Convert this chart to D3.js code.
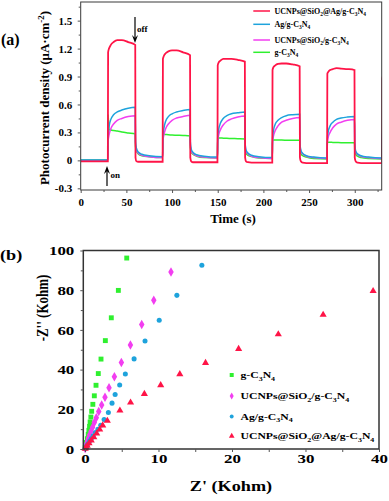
<!DOCTYPE html>
<html><head><meta charset="utf-8">
<script src="https://cdn.jsdelivr.net/npm/d3@7"></script>
<style>
body{margin:0;background:#fff}
svg{display:block}
text{font-family:"Liberation Serif","Times New Roman",serif;font-weight:bold;fill:#000}
</style></head>
<body><svg id="c" width="389" height="501"></svg>
<script>
// ---------- Panel (a) data: photocurrent vs time ----------
const time = [0, 29.7,
  30, 31, 33, 36, 40, 45, 52, 59.7, 60, 61, 63, 67, 75, 89.7,
  90, 91, 93, 96, 100, 105, 112, 119.7, 120, 121, 123, 127, 135, 149.7,
  150, 151, 153, 156, 160, 165, 172, 179.7, 180, 181, 183, 187, 195, 209.7,
  210, 211, 213, 216, 220, 225, 232, 239.7, 240, 241, 243, 247, 255, 269.7,
  270, 271, 273, 276, 280, 285, 292, 299.7, 300, 301, 303, 307, 315, 329.7,
  330, 332];
const redA = [-0.01, -0.01,
  1.16, 1.20, 1.24, 1.27, 1.29, 1.29, 1.27, 1.24, 0.03, -0.01, -0.015, -0.015, -0.015, -0.015,
  1.09, 1.12, 1.15, 1.17, 1.18, 1.18, 1.16, 1.13, 0.03, -0.01, -0.02, -0.02, -0.02, -0.02,
  1.02, 1.05, 1.07, 1.09, 1.09, 1.09, 1.08, 1.06, 0.03, -0.01, -0.02, -0.025, -0.025, -0.025,
  0.97, 1.00, 1.02, 1.035, 1.04, 1.04, 1.03, 1.01, 0.03, -0.01, -0.025, -0.03, -0.03, -0.03,
  0.93, 0.95, 0.97, 0.98, 0.99, 0.985, 0.98, 0.97, 0.03, -0.01, -0.025, -0.03, -0.03, -0.03,
  0.88, 0.92];
const blueA = [0.005, 0.005,
  0.26, 0.36, 0.44, 0.49, 0.52, 0.54, 0.56, 0.57, 0.20, 0.13, 0.09, 0.065, 0.05, 0.04,
  0.26, 0.34, 0.42, 0.47, 0.50, 0.52, 0.535, 0.545, 0.20, 0.12, 0.085, 0.06, 0.045, 0.035,
  0.25, 0.33, 0.40, 0.45, 0.48, 0.50, 0.51, 0.52, 0.19, 0.11, 0.08, 0.055, 0.04, 0.03,
  0.24, 0.32, 0.39, 0.43, 0.46, 0.48, 0.49, 0.495, 0.18, 0.11, 0.075, 0.05, 0.035, 0.025,
  0.23, 0.31, 0.37, 0.41, 0.44, 0.455, 0.465, 0.47, 0.17, 0.10, 0.07, 0.05, 0.035, 0.025,
  0.25, 0.40];
const magentaA = [0.0, 0.0,
  0.20, 0.27, 0.34, 0.39, 0.43, 0.45, 0.47, 0.48, 0.18, 0.11, 0.08, 0.055, 0.04, 0.03,
  0.21, 0.27, 0.34, 0.39, 0.43, 0.455, 0.47, 0.485, 0.17, 0.10, 0.075, 0.05, 0.035, 0.025,
  0.20, 0.27, 0.33, 0.38, 0.42, 0.445, 0.465, 0.475, 0.17, 0.10, 0.07, 0.045, 0.03, 0.02,
  0.19, 0.26, 0.32, 0.37, 0.41, 0.43, 0.45, 0.46, 0.16, 0.10, 0.07, 0.045, 0.03, 0.02,
  0.18, 0.25, 0.30, 0.35, 0.39, 0.41, 0.43, 0.44, 0.16, 0.09, 0.065, 0.04, 0.03, 0.02,
  0.22, 0.38];
const greenA = [0.005, 0.005,
  0.49, 0.33, 0.325, 0.32, 0.315, 0.305, 0.295, 0.285, 0.15, 0.10, 0.07, 0.05, 0.04, 0.03,
  0.28, 0.28, 0.278, 0.275, 0.272, 0.27, 0.267, 0.263, 0.14, 0.09, 0.065, 0.045, 0.03, 0.025,
  0.24, 0.24, 0.24, 0.238, 0.237, 0.235, 0.233, 0.23, 0.13, 0.08, 0.055, 0.04, 0.025, 0.02,
  0.22, 0.22, 0.22, 0.22, 0.218, 0.217, 0.216, 0.215, 0.12, 0.075, 0.05, 0.035, 0.02, 0.015,
  0.19, 0.195, 0.195, 0.193, 0.192, 0.19, 0.19, 0.19, 0.11, 0.07, 0.045, 0.03, 0.02, 0.015,
  0.15, 0.19];
const seriesNamesA = ["UCNPs@SiO2@Ag/g-C3N4", "Ag/g-C3N4", "UCNPs@SiO2/g-C3N4", "g-C3N4"];
const xTicksA = [0, 50, 100, 150, 200, 250, 300];
const yTicksA = [-0.3, 0, 0.3, 0.6, 0.9, 1.2, 1.5];
const yTickLabelsA = ["-0.3", "0", "0.3", "0.6", "0.9", "1.2", "1.5"];

// ---------- Panel (b) data: Nyquist plot [Z', -Z''] ----------
const gcnB = [[5.68,96.2],[4.54,79.9],[3.58,66.1],[2.77,54.6],[2.18,45.3],[1.81,38.0],[1.50,32.1],[1.27,26.8],[1.07,22.5],[0.91,19.0],[0.80,16.1],[0.70,13.6],[0.62,11.4],[0.53,9.4],[0.44,7.4],[0.32,5.2],[0.2,3.3],[0.1,1.8],[0.04,0.7]];
const ucnpB = [[11.7,89.2],[9.36,74.9],[7.72,62.7],[6.18,52.4],[4.95,43.6],[4.0,36.4],[3.27,30.9],[2.72,26.1],[2.27,22.2],[1.87,18.9],[1.54,15.8],[1.27,13.3],[1.03,11.0],[0.83,9.0],[0.65,7.2],[0.5,5.6],[0.37,4.2],[0.25,2.9],[0.15,1.8],[0.07,0.9],[0.02,0.3]];
const agB = [[15.9,92.6],[12.5,77.4],[10.1,64.9],[8.17,54.4],[6.68,45.4],[5.49,37.8],[4.72,32.2],[4.1,27.5],[3.68,23.1],[3.18,18.4],[2.6,14.8],[2.14,12.0],[1.76,10.0],[1.42,8.3],[1.12,6.7],[0.86,5.3],[0.63,4.0],[0.43,2.8],[0.26,1.7],[0.12,0.8],[0.03,0.2]];
const ucnpAgB = [[39.2,79.6],[32.4,67.6],[26.3,57.8],[20.9,50.4],[16.4,43.4],[12.9,37.7],[10.3,32.2],[8.08,27.8],[6.2,23.4],[4.75,19.4],[3.04,14.2],[2.41,11.9],[2.0,9.8],[1.59,7.8],[1.2,5.9],[0.85,4.3],[0.55,2.9],[0.3,1.7],[0.12,0.8],[0.03,0.2]];
const seriesNamesB = ["g-C3N4", "UCNPs@SiO2/g-C3N4", "Ag/g-C3N4", "UCNPs@SiO2@Ag/g-C3N4"];
const xTicksB = [0, 10, 20, 30, 40];
const yTicksB = [0, 20, 40, 60, 80, 100];

// ---------- helpers ----------
const svg = d3.select("#c");
const COL = {red:"#ff1447", blue:"#1ea3dc", mag:"#f23ef0", green:"#2ff02f"};

function chem(t, str, fs){
  const parts = str.split(/(\d)/).filter(p => p !== "");
  let down = false;
  parts.forEach(p => {
    if (/^\d$/.test(p)) {
      t.append("tspan").attr("font-size", fs*0.68).attr("dy", down ? 0 : fs*0.28).text(p);
      down = true;
    } else {
      t.append("tspan").attr("dy", down ? -fs*0.28 : 0).text(p);
      down = false;
    }
  });
}
function stretch(sel, k){
  sel.each(function(){
    const w = this.getComputedTextLength();
    d3.select(this).attr("textLength", w*k).attr("lengthAdjust", "spacingAndGlyphs");
  });
}
function range(a, b, s){ const r=[]; for(let v=a; v<=b+1e-9; v+=s) r.push(+v.toFixed(4)); return r; }

// ================= Panel (a) =================
const xA = d3.scaleLinear().domain([0, 329.5]).range([80.7, 381.7]);
const yA = d3.scaleLinear().domain([-0.318, 1.70]).range([190, 2]);
const gA = svg.append("g");

gA.append("defs").append("clipPath").attr("id","clipA").append("rect")
  .attr("x", xA.range()[0]).attr("y", yA.range()[1])
  .attr("width", xA.range()[1]-xA.range()[0]).attr("height", yA.range()[0]-yA.range()[1]);

const lineA = d3.line().x((d,i)=>xA(time[i])).y(d=>yA(d)).curve(d3.curveMonotoneX);
const seriesA = [[greenA, COL.green, 1.5],[magentaA, COL.mag, 1.5],[blueA, COL.blue, 1.5],[redA, COL.red, 1.8]];
seriesA.forEach(([vals, c, w]) => {
  gA.append("path").attr("clip-path","url(#clipA)").attr("d", lineA(vals))
    .attr("fill","none").attr("stroke", c).attr("stroke-width", w);
});

// frame
gA.append("rect").attr("x", xA.range()[0]).attr("y", yA.range()[1])
  .attr("width", xA.range()[1]-xA.range()[0]).attr("height", yA.range()[0]-yA.range()[1])
  .attr("fill","none").attr("stroke","#3a3a3a").attr("stroke-width",1);

// axes
const axAx = gA.append("g").attr("transform",`translate(0,${yA.range()[0]})`)
  .call(d3.axisBottom(xA).tickValues(xTicksA).tickSize(3).tickPadding(5).tickFormat(d3.format("d")));
axAx.select(".domain").remove();
axAx.selectAll("text").attr("font-size", 11);
gA.append("g").attr("transform",`translate(0,${yA.range()[0]})`)
  .call(d3.axisBottom(xA).tickValues(range(25, 325, 50)).tickSize(2).tickFormat(""))
  .select(".domain").remove();
const axAy = gA.append("g").attr("transform",`translate(${xA.range()[0]},0)`)
  .call(d3.axisLeft(yA).tickValues(yTicksA).tickSize(3).tickPadding(5.5).tickFormat((d,i)=>yTickLabelsA[i]));
axAy.select(".domain").remove();
axAy.selectAll("text").attr("font-size", 11);
gA.append("g").attr("transform",`translate(${xA.range()[0]},0)`)
  .call(d3.axisLeft(yA).tickValues(range(-0.15, 1.65, 0.3)).tickSize(2).tickFormat(""))
  .select(".domain").remove();
gA.selectAll(".tick line").attr("stroke","#555");

// titles
gA.append("text").attr("x", 233).attr("y", 223).attr("text-anchor","middle").attr("font-size", 13).text("Time (s)");
const ytA = gA.append("text").attr("transform","translate(49,98) rotate(-90)").attr("text-anchor","middle").attr("font-size", 13);
ytA.append("tspan").text("Photocurrent density (μA·cm");
ytA.append("tspan").attr("font-size", 9).attr("dy", -5).text("-2");
ytA.append("tspan").attr("dy", 5).text(")");
gA.append("text").attr("x", 1).attr("y", 45).attr("font-size", 16).text("(a)");

// on/off arrows
const arrow = (x, y1, y2) => {
  const dir = Math.sign(y2 - y1);
  gA.append("line").attr("x1", x).attr("x2", x).attr("y1", y1).attr("y2", y2 - dir*3).attr("stroke","#000").attr("stroke-width",1.2);
  gA.append("path").attr("d", `M${x-3},${y2-dir*8} L${x},${y2} L${x+3},${y2-dir*8} L${x},${y2-dir*5} Z`).attr("fill","#000");
};
arrow(135, 17, 43);
arrow(107, 186, 166);
gA.append("text").attr("x", 137).attr("y", 31.5).attr("font-size", 9).text("off");
gA.append("text").attr("x", 110.5).attr("y", 178).attr("font-size", 9).text("on");

// legend (a)
const legA = [[seriesNamesA[0], COL.red, 11],[seriesNamesA[1], COL.blue, 24.3],[seriesNamesA[2], COL.mag, 40],[seriesNamesA[3], COL.green, 52.3]];
legA.forEach(([name, c, y]) => {
  gA.append("line").attr("x1", 253.3).attr("x2", 270).attr("y1", y).attr("y2", y).attr("stroke", c).attr("stroke-width", 1.5);
  const t = gA.append("text").attr("x", 274.5).attr("y", y + 2.8).attr("font-size", 8);
  chem(t, name, 8);
});

// ================= Panel (b) =================
const KB = 1.3; // horizontal text stretch in panel (b)
const xB = d3.scaleLinear().domain([-0.23, 40]).range([83.3, 379]);
const yB = d3.scaleLinear().domain([0, 100]).range([449, 250.5]);
const gB = svg.append("g");

const sym = (type, size) => d3.symbol().type(type).size(size)();
const seriesB = [
  [gcnB, COL.green, d3.symbolSquare, 24],
  [ucnpB, COL.mag, d3.symbolDiamond, 26],
  [agB, COL.blue, d3.symbolCircle, 20],
  [ucnpAgB, COL.red, d3.symbolTriangle, 22]
];
seriesB.forEach(([pts, c, type, size]) => {
  gB.selectAll(null).data(pts).enter().append("path")
    .attr("d", sym(type, size))
    .attr("transform", d => `translate(${xB(d[0])},${yB(d[1])})`)
    .attr("fill", c);
});

gB.append("rect").attr("x", xB.range()[0]).attr("y", yB.range()[1])
  .attr("width", xB.range()[1]-xB.range()[0]).attr("height", yB.range()[0]-yB.range()[1])
  .attr("fill","none").attr("stroke","#333").attr("stroke-width",1.5);

const axBx = gB.append("g").attr("transform",`translate(0,${yB.range()[0]})`)
  .call(d3.axisBottom(xB).tickValues(xTicksB).tickSize(3).tickPadding(1.5).tickFormat(d3.format("d")));
axBx.select(".domain").remove();
axBx.selectAll("text").attr("font-size", 13);
gB.append("g").attr("transform",`translate(0,${yB.range()[0]})`)
  .call(d3.axisBottom(xB).tickValues(range(5, 35, 10)).tickSize(3).tickFormat(""))
  .select(".domain").remove();
const axBy = gB.append("g").attr("transform",`translate(${xB.range()[0]},0)`)
  .call(d3.axisLeft(yB).tickValues(yTicksB).tickSize(3).tickPadding(6).tickFormat(d3.format("d")));
axBy.select(".domain").remove();
axBy.selectAll("text").attr("font-size", 13);
gB.append("g").attr("transform",`translate(${xB.range()[0]},0)`)
  .call(d3.axisLeft(yB).tickValues(range(10, 90, 20)).tickSize(2.5).tickFormat(""))
  .select(".domain").remove();
gB.selectAll(".tick line").attr("stroke","#555");
stretch(axBx.selectAll("text"), KB);
stretch(axBy.selectAll("text"), KB);

const xtB = gB.append("text").attr("x", 231).attr("y", 491).attr("text-anchor","middle").attr("font-size", 14).text("Z' (Kohm)");
stretch(xtB, KB);
gB.append("text").attr("transform",`translate(47.5,308) scale(${KB},1) rotate(-90)`).attr("text-anchor","middle").attr("font-size", 13).text("-Z'' (Kohm)");
const lb = gB.append("text").attr("x", 0).attr("y", 260).attr("font-size", 14).text("(b)");
stretch(lb, KB);

// legend (b)
const legB = [[seriesNamesB[0], COL.green, d3.symbolSquare, 16, 375],
              [seriesNamesB[1], COL.mag, d3.symbolDiamond, 14, 396],
              [seriesNamesB[2], COL.blue, d3.symbolCircle, 12, 416.5],
              [seriesNamesB[3], COL.red, d3.symbolTriangle, 14, 436]];
legB.forEach(([name, c, type, size, y]) => {
  gB.append("path").attr("d", sym(type, size)).attr("transform", `translate(231.7,${y})`).attr("fill", c);
  const t = gB.append("text").attr("x", 240.5).attr("y", y + 3).attr("font-size", 9);
  chem(t, name, 9);
  stretch(t, KB);
});
</script></body></html>
